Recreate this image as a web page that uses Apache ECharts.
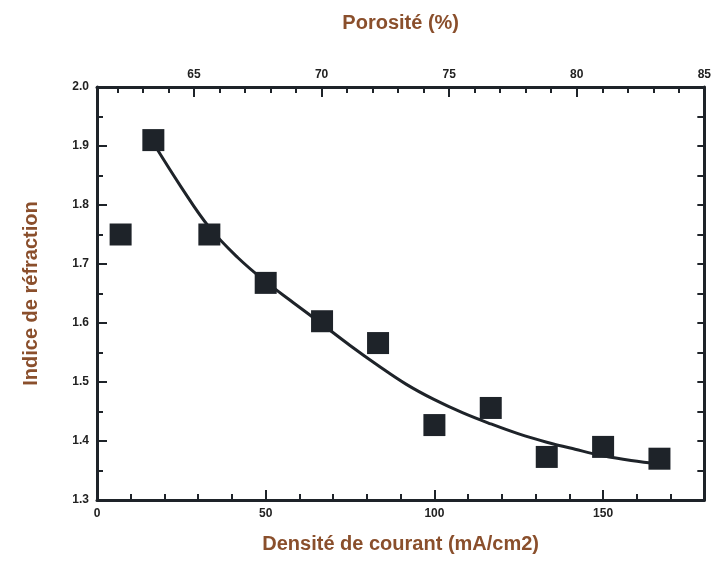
<!DOCTYPE html>
<html>
<head>
<meta charset="utf-8">
<script src="https://cdn.jsdelivr.net/npm/echarts@6/dist/echarts.min.js"></script>
<style>
html, body { margin: 0; padding: 0; background: #fff; }
#chart { width: 714px; height: 566px; }
</style>
</head>
<body>
<div id="chart"></div>
<script>
// mesures (densite de courant -> indice)
const currentDensity = [7, 16.7, 33.3, 50, 66.7, 83.3, 100, 116.7, 133.3, 150, 166.7]
const refractiveIndex = [1.75, 1.91, 1.75, 1.668, 1.603, 1.566, 1.427, 1.456, 1.373, 1.39, 1.37]

// courbe d'ajustement
const fitX = [16.7, 25, 33.3, 41.7, 50, 58.3, 66.7, 75, 83.3, 91.7, 100, 108.3, 116.7, 125, 133.3, 141.7, 150, 158.3, 166.7]
const fitY = [1.905, 1.83, 1.762, 1.711, 1.67, 1.634, 1.598, 1.562, 1.528, 1.496, 1.47, 1.448, 1.429, 1.412, 1.398, 1.386, 1.375, 1.367, 1.361]

const bottomLabels = [0, 50, 100, 150]
const topLabels = [65, 70, 75, 80, 85]
const topMinor = [62, 63, 64, 65, 66, 67, 68, 69, 70, 71, 72, 73, 74, 75, 76, 77, 78, 79, 80, 81, 82, 83, 84, 85]

const ink = '#1e2329'
const titleColor = '#8a4f2c'
const labelFont = { color: '#222', fontSize: 12, fontWeight: 'bold', fontFamily: 'Liberation Sans' }
const titleFont = { color: titleColor, fontSize: 20, fontWeight: 'bold', fontFamily: 'Liberation Sans' }
const line = { show: true, lineStyle: { color: ink, width: 3 } }
const noLine = { show: false }

const chart = echarts.init(document.getElementById('chart'))
chart.setOption({
  animation: false,
  grid: { left: 97, right: 6, top: 87, bottom: 66 },
  xAxis: [
    {
      type: 'value', position: 'bottom', min: 0, max: 180, interval: 10,
      axisLine: line, splitLine: { show: false },
      axisTick: { inside: true, length: 6, lineStyle: { color: ink, width: 2 } },
      axisLabel: { show: false }
    },
    {
      type: 'value', position: 'bottom', min: 0, max: 180,
      axisLine: noLine, splitLine: { show: false },
      axisTick: { inside: true, length: 10, customValues: bottomLabels, lineStyle: { color: ink, width: 2 } },
      axisLabel: Object.assign({ customValues: bottomLabels, margin: 8 }, labelFont),
      name: 'Densité de courant (mA/cm2)', nameLocation: 'middle', nameGap: 34,
      nameTextStyle: titleFont
    },
    {
      type: 'value', position: 'top', min: 61.2, max: 85,
      axisLine: line, splitLine: { show: false },
      axisTick: { inside: true, length: 6, customValues: topMinor, lineStyle: { color: ink, width: 2 } },
      axisLabel: { show: false }
    },
    {
      type: 'value', position: 'top', min: 61.2, max: 85,
      axisLine: noLine, splitLine: { show: false },
      axisTick: { inside: true, length: 10, customValues: topLabels, lineStyle: { color: ink, width: 2 } },
      axisLabel: Object.assign({ customValues: topLabels, margin: 6 }, labelFont),
      name: 'Porosité (%)', nameLocation: 'middle', nameGap: 54,
      nameTextStyle: titleFont
    }
  ],
  yAxis: [
    {
      type: 'value', position: 'left', min: 1.3, max: 2.0, interval: 0.05,
      axisLine: line, splitLine: { show: false },
      axisTick: { inside: true, length: 6, lineStyle: { color: ink, width: 2 } },
      axisLabel: { show: false }
    },
    {
      type: 'value', position: 'left', min: 1.3, max: 2.0, interval: 0.1,
      axisLine: noLine, splitLine: { show: false },
      axisTick: { inside: true, length: 10, lineStyle: { color: ink, width: 2 } },
      axisLabel: Object.assign({ margin: 8, formatter: v => v.toFixed(1) }, labelFont),
      name: 'Indice de réfraction', nameLocation: 'middle', nameGap: 56,
      nameTextStyle: titleFont
    },
    {
      type: 'value', position: 'right', min: 1.3, max: 2.0, interval: 0.05,
      axisLine: line, splitLine: { show: false },
      axisTick: { inside: true, length: 7, lineStyle: { color: ink, width: 2 } },
      axisLabel: { show: false }
    }
  ],
  series: [
    {
      type: 'line',
      xAxisIndex: 0, yAxisIndex: 0,
      smooth: 0.4,
      symbol: 'none',
      lineStyle: { color: ink, width: 3 },
      data: fitX.map((x, i) => [x, fitY[i]]),
      z: 2
    },
    {
      type: 'scatter',
      xAxisIndex: 0, yAxisIndex: 0,
      symbol: 'rect',
      symbolSize: 22,
      itemStyle: { color: ink, opacity: 1 },
      data: currentDensity.map((x, i) => [x, refractiveIndex[i]]),
      z: 3
    }
  ]
})
</script>
</body>
</html>
